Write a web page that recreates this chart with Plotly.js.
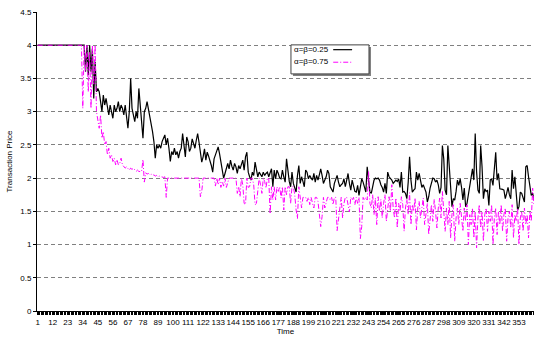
<!DOCTYPE html>
<html>
<head>
<meta charset="utf-8">
<script src="https://cdn.plot.ly/plotly-3.0.1.min.js"></script>
<style>html,body{margin:0;padding:0;background:#fff;}#chart{width:534px;height:337px;}</style>
</head>
<body>
<div id="chart"></div>
<script>
// Transaction price, alpha = beta = 0.25 (periods 1..364)
const priceLow = [
4,4,4,4,4,4,4,4,4,4,
4,4,4,4,4,4,4,4,4,4,
4,4,4,4,4,4,4,4,4,4,
4,4,4,4,4,3.6,4,3.55,4,3.6,
3.95,3.2,3.75,3.3,3.35,3.3,3.15,3.0,3.25,3.1,
3.2,3.05,2.95,3.1,3.0,2.9,3.1,3.0,3.05,3.15,
3.0,3.1,3.05,2.95,3.1,2.95,2.75,3.0,3.5,3.05,
2.95,2.85,3.0,2.9,3.35,3.1,2.75,2.6,3.0,3.05,
3.15,3.05,2.95,2.85,2.7,2.55,2.3,2.5,2.45,2.5,
2.45,2.55,2.6,2.65,2.5,2.6,2.45,2.25,2.4,2.35,
2.45,2.35,2.4,2.3,2.4,2.45,2.67,2.5,2.32,2.62,
2.55,2.4,2.45,2.59,2.5,2.45,2.57,2.67,2.54,2.35,
2.24,2.32,2.44,2.27,2.39,2.33,2.27,2.19,2.09,2.29,
2.35,2.4,2.47,2.37,2.22,2.12,2.0,2.07,2.15,2.22,
2.14,2.27,2.18,2.12,2.22,2.17,2.07,2.19,2.14,2.2,
2.27,2.12,2.32,2.39,2.09,2.02,1.97,2.09,2.04,2.24,
2.1,2.02,2.09,2.04,2.02,2.09,2.04,2.07,2.09,2.02,
2.1,2.14,1.87,2.12,1.99,2.12,2.07,2.0,1.99,2.12,
2.02,1.94,2.29,2.07,1.95,1.87,2.09,1.92,1.85,1.79,
2.04,2.19,1.92,2.02,1.95,1.87,2.12,2.09,1.99,2.04,
2.0,1.97,2.07,1.94,2.04,1.97,2.05,2.14,2.04,1.92,
1.97,2.02,2.12,2.07,1.87,1.83,1.79,1.92,1.99,2.04,
1.94,1.87,1.9,1.92,1.99,1.87,1.97,2.07,1.92,1.82,
1.97,1.87,1.8,1.79,1.89,1.74,1.87,1.99,1.94,1.85,
1.79,2.17,1.92,1.79,1.77,1.9,1.97,2.0,1.99,2.0,
1.97,1.9,1.86,1.79,1.92,1.77,2.09,2.02,2.0,1.97,
1.92,1.94,1.97,1.95,1.99,1.86,2.09,1.79,1.8,1.77,
1.69,1.94,2.32,1.97,1.79,1.82,1.84,2.09,1.97,2.07,
1.97,1.86,1.9,1.84,1.79,1.64,1.72,1.85,1.92,2.0,
1.99,1.94,1.97,1.9,1.77,1.86,2.49,2.29,1.82,1.75,
2.49,2.17,1.82,1.57,1.69,1.67,1.8,1.97,1.89,1.99,
1.86,1.67,1.85,1.57,1.62,1.75,1.92,2.04,2.14,1.97,
2.67,2.1,1.82,1.77,2.49,2.17,1.69,1.84,1.8,1.82,
1.59,1.97,1.99,1.89,2.2,2.39,1.97,2.07,1.84,1.84,
1.83,1.82,1.69,1.77,1.86,1.75,1.69,2.12,1.84,2.02,
1.75,1.52,1.57,1.79,1.77,1.7,1.64,2.17,2.19,2.02,
1.85,1.74,1.77,1.67
];

// Transaction price, alpha = beta = 0.75 (periods 1..364)
const priceHigh = [
4,4,4,4,4,4,4,4,4,4,
4,4,4,4,4,4,4,4,4,4,
4,4,4,4,4,4,4,4,4,4,
4,4,4,3.05,4,3.6,4,3.3,3.9,3.05,
4,3.4,4,3.0,2.9,2.75,2.95,2.6,2.7,2.5,
2.55,2.35,2.45,2.3,2.35,2.25,2.3,2.2,2.28,2.2,
2.22,2.3,2.2,2.18,2.15,2.17,2.15,2.12,2.15,2.13,
2.15,2.12,2.1,2.12,2.1,2.1,2.1,2.28,1.94,2.08,
2.06,2.07,2.05,2.06,2.04,2.05,2.03,2.04,2.02,2.03,
2.02,2.02,2.01,2.02,1.71,2,2,2,2,2,
2,2,2,2,2,2,2,2,2,2,
2,2,2,2,2,2,2,2,2,1.72,
1.8,2,2,2,2,2,2,2,2,2,
1.88,2,1.9,2,1.86,1.95,1.88,2,1.86,1.92,
2,2,2,2,2,2,1.77,1.87,1.72,2,
1.9,1.62,1.6,2,1.86,1.87,2,2,1.9,1.6,
1.62,1.87,2,1.9,1.77,2,1.95,1.85,2,2,
1.46,1.87,1.67,1.87,1.67,1.87,1.8,1.87,1.7,1.87,
1.52,1.87,1.75,1.87,1.87,1.62,1.87,1.87,1.75,1.52,
1.39,1.87,1.71,1.55,1.71,1.71,1.71,1.65,1.71,1.6,
1.71,1.62,1.55,1.71,1.71,1.65,1.5,1.27,1.42,1.71,
1.55,1.62,1.71,1.71,1.67,1.71,1.6,1.71,1.71,1.21,
1.42,1.55,1.71,1.4,1.62,1.71,1.71,1.6,1.49,1.71,
1.67,1.71,1.6,1.71,1.62,1.71,1.09,1.27,1.71,1.67,
1.71,1.67,2.1,1.62,1.55,1.75,1.45,1.7,1.3,1.72,
1.5,1.68,1.4,1.62,1.75,1.35,1.6,1.72,1.5,1.9,
1.55,1.4,1.7,1.25,1.62,1.5,1.72,1.6,1.2,1.55,
1.68,1.45,1.78,1.3,1.6,1.5,1.7,1.22,1.55,1.65,
1.4,1.58,1.7,1.3,1.5,1.62,1.15,1.45,1.6,1.35,
1.68,1.5,1.25,1.55,1.7,1.4,1.8,1.5,1.2,1.55,
1.3,1.65,1.1,1.45,1.6,1.05,1.4,1.55,1.3,1.62,
1.45,1.2,1.55,1.35,1.6,1.0,1.45,1.3,1.55,1.1,
1.5,0.95,1.4,1.6,1.25,1.5,1.05,1.45,1.55,1.2,
1.5,1.35,1.6,1.0,1.4,1.55,1.15,1.5,1.3,1.6,
1.2,1.45,1.55,1.05,1.4,1.5,1.25,1.6,1.1,1.45,
1.35,1.55,1.0,1.4,1.5,1.2,1.55,1.3,1.45,1.1,
1.5,1.35,1.85,1.6
];

const seriesNames = ['\u03b1=\u03b2=0.25', '\u03b1=\u03b2=0.75'];
const xTickVals = [1,12,23,34,45,56,67,78,89,100,111,122,133,144,155,166,177,188,199,210,221,232,243,254,265,276,287,298,309,320,331,342,353];
const xTickText = ['1','12','23','34','45','56','67','78','89','100','111','122','133','144','155','166','177','188','199','210','221','232','243','254','265','276','287','298','309','320','331','342','353'];
const yTickVals = [0,0.5,1,1.5,2,2.5,3,3.5,4,4.5];
const yTickText = ['0','0.5','1','1.5','2','2.5','3','3.5','4','4.5'];

const FONT = 'Liberation Sans, Arial, sans-serif';

const traces = [
  {
    type: 'scatter', mode: 'lines', name: seriesNames[0],
    y: priceLow, x0: 1, dx: 1,
    line: {color: '#000000', width: 1.2},
    showlegend: false, hoverinfo: 'skip'
  },
  {
    type: 'scatter', mode: 'lines', name: seriesNames[1],
    y: priceHigh, x0: 1, dx: 1,
    line: {color: '#ff00ff', width: 1, dash: '5px,2px,1px,2px'},
    showlegend: false, hoverinfo: 'skip'
  }
];

const layout = {
  width: 534, height: 337,
  margin: {l: 37, r: 0, t: 12, b: 26, pad: 0},
  paper_bgcolor: '#ffffff', plot_bgcolor: '#ffffff',
  font: {family: FONT, size: 8, color: '#000000'},
  showlegend: false,
  xaxis: {
    range: [0.5, 364], showgrid: false, zeroline: false,
    showline: true, linecolor: '#000000', linewidth: 1,
    tickmode: 'array', tickvals: xTickVals, ticktext: xTickText,
    ticks: 'outside', ticklen: 3, tickcolor: '#000000', tickwidth: 1,
    tickangle: 0, tickfont: {family: FONT, size: 8, color: '#000000'},
    minor: {dtick: 1, tick0: 0.5, ticks: 'outside', ticklen: 3, tickcolor: '#000000', tickwidth: 1, showgrid: false},
    title: {text: 'Time', font: {family: FONT, size: 8, color: '#000000'}, standoff: 2}
  },
  yaxis: {
    range: [0, 4.5], zeroline: false,
    tickmode: 'array', tickvals: yTickVals, ticktext: yTickText,
    showgrid: true, gridcolor: '#808080', gridwidth: 1, griddash: '4px,3px',
    showline: true, linecolor: '#000000', linewidth: 1,
    ticks: 'outside', ticklen: 3, tickcolor: '#000000',
    tickfont: {family: FONT, size: 8, color: '#000000'},
    title: {text: 'Transaction Price', font: {family: FONT, size: 8, color: '#000000'}, standoff: 6}
  },
  shapes: [
    {type: 'rect', xref: 'paper', yref: 'paper', x0: 0.515, x1: 0.672, y0: 0.786, y1: 0.883, fillcolor: '#808080', line: {width: 0}, layer: 'above'},
    {type: 'rect', xref: 'paper', yref: 'paper', x0: 0.511, x1: 0.668, y0: 0.793, y1: 0.890, fillcolor: '#ffffff', line: {color: '#404040', width: 1}, layer: 'above'},
    {type: 'line', xref: 'paper', yref: 'paper', x0: 0.596, x1: 0.634, y0: 0.874, y1: 0.874, line: {color: '#000000', width: 1.2}, layer: 'above'},
    {type: 'line', xref: 'paper', yref: 'paper', x0: 0.596, x1: 0.634, y0: 0.832, y1: 0.832, line: {color: '#ff00ff', width: 1, dash: '5px,2px,1px,2px'}, layer: 'above'}
  ],
  annotations: [
    {xref: 'paper', yref: 'paper', x: 0.514, y: 0.874, xanchor: 'left', yanchor: 'middle', text: seriesNames[0], showarrow: false, font: {family: FONT, size: 8, color: '#000000'}},
    {xref: 'paper', yref: 'paper', x: 0.514, y: 0.834, xanchor: 'left', yanchor: 'middle', text: seriesNames[1], showarrow: false, font: {family: FONT, size: 8, color: '#000000'}}
  ]
};

Plotly.newPlot('chart', traces, layout, {displayModeBar: false, staticPlot: true});
</script>
</body>
</html>
